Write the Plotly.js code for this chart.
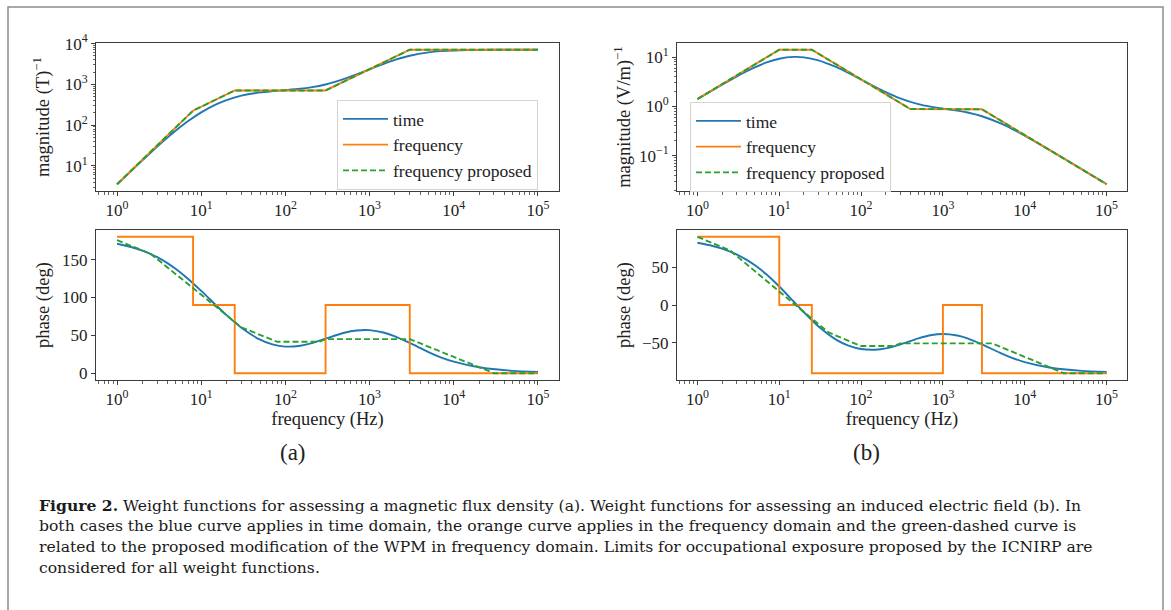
<!DOCTYPE html>
<html>
<head>
<meta charset="utf-8">
<script src="https://cdn.plot.ly/plotly-3.0.1.min.js"></script>
<style>
  html, body { margin: 0; padding: 0; background: #ffffff; }
  #chart { width: 1171px; height: 610px; }
</style>
</head>
<body>
<div id="chart"></div>
<script>
// ---------------- DATA ----------------
// Shared frequency grid of the smooth "time" curves (Hz)
const freqTime = [1, 1.5, 2, 3, 4, 5, 7, 10, 15, 20, 30, 50, 70, 100, 150, 200, 300, 500, 700, 1000, 1500, 2000, 3000, 5000, 7000, 10000, 20000, 50000, 100000];

// (a) magnetic flux density weight function
const magA_time   = [3.51, 7.81, 13.7, 29.6, 50.0, 73.6, 125.7, 205.4, 321.8, 411.6, 528.2, 634.0, 680.2, 721.3, 778.5, 841.9, 992.8, 1356, 1749, 2337, 3228, 3971, 5031, 6083, 6512, 6785, 6992, 7058, 7068];
const phaseA_time = [170.8, 166.2, 161.7, 153.1, 145.0, 137.5, 124.4, 108.6, 89.7, 76.6, 59.9, 44.2, 38.0, 35.1, 36.2, 39.3, 45.6, 53.4, 56.4, 56.8, 53.4, 48.7, 39.9, 27.9, 21.0, 15.2, 7.8, 3.1, 1.6];

const freqA_mag   = [1, 8, 25, 300, 3000, 100000];
const magA_freq   = [3.54, 226, 707, 707, 7071, 7071];
const magA_prop   = [3.54, 226, 707, 707, 7071, 7071];

const freqA_step  = [1, 8, 8, 25, 25, 300, 300, 3000, 3000, 100000];
const phaseA_freq = [180, 180, 90, 90, 0, 0, 90, 90, 0, 0];

const freqA_prop  = [1, 2.5, 30, 80, 250, 300, 3000, 30000, 100000];
const phaseA_prop = [175.6, 157.7, 60.6, 41.4, 41.4, 45, 45, 0, 0];

// (b) induced electric field weight function
const magB_time   = [1.406, 2.094, 2.764, 4.034, 5.186, 6.201, 7.808, 9.287, 10.10, 9.889, 8.613, 6.249, 4.778, 3.516, 2.474, 1.955, 1.460, 1.115, 0.990, 0.903, 0.818, 0.750, 0.630, 0.456, 0.349, 0.254, 0.131, 0.0529, 0.0265];
const phaseB_time = [82.1, 78.2, 74.4, 66.8, 59.6, 52.7, 40.2, 24.4, 4.6, -9.6, -28.0, -46.0, -53.6, -58.1, -59.0, -57.3, -52.2, -44.1, -40.0, -38.2, -40.2, -44.0, -51.9, -63.2, -69.8, -75.4, -82.5, -87.0, -88.5];

const freqB_mag   = [1, 10, 25, 400, 3000, 100000];
const magB_freq   = [1.414, 14.14, 14.14, 0.884, 0.873, 0.0262];
const magB_prop   = [1.414, 14.14, 14.14, 0.884, 0.873, 0.0262];

const freqB_step  = [1, 10, 10, 25, 25, 1000, 1000, 3000, 3000, 100000];
const phaseB_freq = [90, 90, 0, 0, -90, -90, 0, 0, -90, -90];

const freqB_prop  = [1, 2.5, 40, 100, 250, 300, 4000, 30000, 100000];
const phaseB_prop = [90, 72.1, -36.3, -54.2, -54.2, -50.6, -50.6, -90, -90];

// Tick values / labels
const xTickVals   = [1, 10, 100, 1000, 10000, 100000];
const xTickText   = ['10<sup>0</sup>', '10<sup>1</sup>', '10<sup>2</sup>', '10<sup>3</sup>', '10<sup>4</sup>', '10<sup>5</sup>'];
const yMagATicks  = [10, 100, 1000, 10000];
const yMagAText   = ['10<sup>1</sup>', '10<sup>2</sup>', '10<sup>3</sup>', '10<sup>4</sup>'];
const yMagBTicks  = [0.1, 1, 10];
const yMagBText   = ['10<sup>\u22121</sup>', '10<sup>0</sup>', '10<sup>1</sup>'];
const yPhATicks   = [0, 50, 100, 150];
const yPhAText    = ['0', '50', '100', '150'];
const yPhBTicks   = [-50, 0, 50];
const yPhBText    = ['\u221250', '0', '50'];

const seriesNames = ['time', 'frequency', 'frequency proposed'];
const captionLines = [
  '<b>Figure 2.</b> Weight functions for assessing a magnetic flux density (a). Weight functions for assessing an induced electric field (b). In',
  'both cases the blue curve applies in time domain, the orange curve applies in the frequency domain and the green-dashed curve is',
  'related to the proposed modification of the WPM in frequency domain. Limits for occupational exposure proposed by the ICNIRP are',
  'considered for all weight functions.'
];

// ---------------- STYLE ----------------
const W = 1171, H = 610;
const SERIF = '"Liberation Serif", "DejaVu Serif", serif';
const CAPFONT = '"DejaVu Serif", "Liberation Serif", serif';
const C_BLUE = '#1f77b4', C_ORANGE = '#ff7f0e', C_GREEN = '#2ca02c';
const AXC = '#3c3c3c';
const fx = p => p / W;
const fy = p => 1 - p / H;

const domA = [fx(96), fx(559)];
const domB = [fx(677), fx(1127)];
const domTop = [fy(191), fy(43)];
const domBot = [fy(380), fy(230)];

function blue(x, y, xa, ya, legend, show) {
  return {x, y, xaxis: xa, yaxis: ya, type: 'scatter', mode: 'lines', name: seriesNames[0],
    line: {color: C_BLUE, width: 1.9, shape: 'spline', smoothing: 0.6}, legend, showlegend: show};
}
function orange(x, y, xa, ya, legend, show) {
  return {x, y, xaxis: xa, yaxis: ya, type: 'scatter', mode: 'lines', name: seriesNames[1],
    line: {color: C_ORANGE, width: 1.9}, legend, showlegend: show};
}
function green(x, y, xa, ya, legend, show) {
  return {x, y, xaxis: xa, yaxis: ya, type: 'scatter', mode: 'lines', name: seriesNames[2],
    line: {color: C_GREEN, width: 1.9, dash: '6px,3px'}, legend, showlegend: show};
}

const data = [
  blue(freqTime, magA_time, 'x', 'y', 'legend', true),
  orange(freqA_mag, magA_freq, 'x', 'y', 'legend', true),
  green(freqA_mag, magA_prop, 'x', 'y', 'legend', true),
  blue(freqTime, phaseA_time, 'x2', 'y2', 'legend', false),
  orange(freqA_step, phaseA_freq, 'x2', 'y2', 'legend', false),
  green(freqA_prop, phaseA_prop, 'x2', 'y2', 'legend', false),
  blue(freqTime, magB_time, 'x3', 'y3', 'legend2', true),
  orange(freqB_mag, magB_freq, 'x3', 'y3', 'legend2', true),
  green(freqB_mag, magB_prop, 'x3', 'y3', 'legend2', true),
  blue(freqTime, phaseB_time, 'x4', 'y4', 'legend2', false),
  orange(freqB_step, phaseB_freq, 'x4', 'y4', 'legend2', false),
  green(freqB_prop, phaseB_prop, 'x4', 'y4', 'legend2', false)
];

const tickFont = {family: SERIF, size: 17, color: '#222'};
const titleFont = {family: SERIF, size: 18.5, color: '#222'};
const minorLog = {ticks: 'outside', ticklen: 2.5, tickwidth: 0.8, tickcolor: AXC, dtick: 'D1'};
const base = {showline: true, mirror: true, linecolor: AXC, linewidth: 1, ticks: 'outside', ticklen: 4,
  tickwidth: 1, tickcolor: AXC, showgrid: false, zeroline: false, tickfont: tickFont, fixedrange: true};

function xLog(domain, anchor, title) {
  const ax = Object.assign({}, base, {type: 'log', range: [-0.25, 5.25], domain, anchor,
    tickmode: 'array', tickvals: xTickVals, ticktext: xTickText, minor: minorLog});
  if (title) ax.title = {text: title, font: titleFont, standoff: 0};
  return ax;
}
function yAx(domain, anchor, type, range, vals, text, title) {
  const ax = Object.assign({}, base, {type, range, domain, anchor, tickmode: 'array', tickvals: vals, ticktext: text,
    title: {text: title, font: titleFont}});
  if (type === 'log') ax.minor = minorLog;
  return ax;
}

const legendStyle = {bgcolor: 'rgba(255,255,255,0.85)', bordercolor: '#d4d4d4', borderwidth: 1,
  font: {family: SERIF, size: 17.5, color: '#222'}, itemwidth: 45,
  xanchor: 'left', yanchor: 'top', xref: 'paper', yref: 'paper'};

const annotations = [
  {text: '(a)', x: fx(293), y: fy(452), xref: 'paper', yref: 'paper', showarrow: false, xanchor: 'center', yanchor: 'middle',
   font: {family: SERIF, size: 23, color: '#222'}},
  {text: '(b)', x: fx(866), y: fy(452), xref: 'paper', yref: 'paper', showarrow: false, xanchor: 'center', yanchor: 'middle',
   font: {family: SERIF, size: 23, color: '#222'}}
];
const capY = [505, 526, 547, 568];
captionLines.forEach((t, i) => annotations.push({text: t, x: fx(37), y: fy(capY[i]), xref: 'paper', yref: 'paper',
  showarrow: false, xanchor: 'left', yanchor: 'middle', align: 'left', font: {family: CAPFONT, size: 15.6, color: '#1a1a1a'}}));

const layout = {
  width: W, height: H,
  margin: {l: 0, r: 0, t: 0, b: 0, pad: 0},
  paper_bgcolor: '#ffffff', plot_bgcolor: '#ffffff',
  showlegend: true,
  xaxis:  xLog(domA, 'y', null),
  yaxis:  yAx(domTop, 'x', 'log', [0.384, 4.014], yMagATicks, yMagAText, 'magnitude (T)<sup>\u22121</sup>'),
  xaxis2: xLog(domA, 'y2', 'frequency (Hz)'),
  yaxis2: yAx(domBot, 'x2', 'linear', [-9, 189], yPhATicks, yPhAText, 'phase (deg)'),
  xaxis3: xLog(domB, 'y3', null),
  yaxis3: yAx(domTop, 'x3', 'log', [-1.718, 1.287], yMagBTicks, yMagBText, 'magnitude (V/m)<sup>\u22121</sup>'),
  xaxis4: xLog(domB, 'y4', 'frequency (Hz)'),
  yaxis4: yAx(domBot, 'x4', 'linear', [-99, 99], yPhBTicks, yPhBText, 'phase (deg)'),
  legend:  Object.assign({}, legendStyle, {x: fx(337), y: fy(100)}),
  legend2: Object.assign({}, legendStyle, {x: fx(690), y: fy(102)}),
  annotations,
  shapes: [
    {type: 'rect', xref: 'paper', yref: 'paper', x0: fx(8), x1: fx(1163), y0: -0.2, y1: fy(7),
     line: {color: '#8c8c8c', width: 1.5}, fillcolor: 'rgba(0,0,0,0)', layer: 'below'}
  ]
};

Plotly.newPlot('chart', data, layout, {displayModeBar: false, staticPlot: true});
</script>
</body>
</html>
